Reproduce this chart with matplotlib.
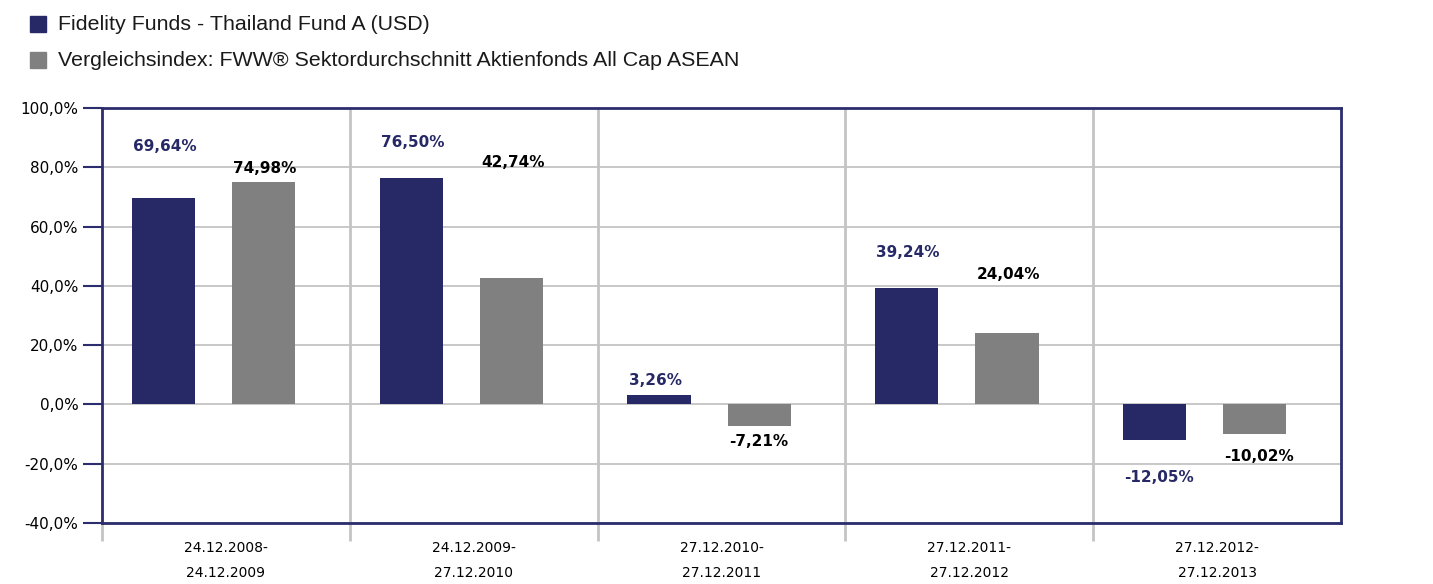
import numpy as np
import matplotlib
matplotlib.use("Agg")
import matplotlib.pyplot as plt
from matplotlib.patches import Rectangle

plt.rcParams["font.family"] = ["DejaVu Sans"]

# data
periods = ["24.12.2008-\n24.12.2009", "24.12.2009-\n27.12.2010", "27.12.2010-\n27.12.2011",
           "27.12.2011-\n27.12.2012", "27.12.2012-\n27.12.2013"]
fund = [69.64, 76.50, 3.26, 39.24, -12.05]
index = [74.98, 42.74, -7.21, 24.04, -10.02]
fund_name = "Fidelity Funds - Thailand Fund A (USD)"
index_name = "Vergleichsindex: FWW\u00ae Sektordurchschnitt Aktienfonds All Cap ASEAN"
# where the value labels sit (in data units)
fund_label_y = [87.0, 88.4, 8.1, 51.3, -24.6]
index_label_y = [79.6, 81.6, -12.5, 43.9, -17.5]

navy = "#272966"
gray = "#808080"
frame = "#2b2d6e"
light = "#c4c4c4"

fig = plt.figure(figsize=(14.33, 5.84), dpi=100)
ax = fig.add_axes([102/1433, 1-523/584, (1341-102)/1433, (523-108)/584])

x = np.arange(len(fund))
ax.bar(x + 0.12, fund, width=0.255, align="edge", color=navy, zorder=3)
ax.bar(x + 0.525, index, width=0.255, align="edge", color=gray, zorder=3)

def fmt(v):
    return ("%.2f%%" % v).replace(".", ",")

for i in range(len(fund)):
    ax.text(i + 0.125, fund_label_y[i], fmt(fund[i]), color=navy, fontsize=11,
            fontweight="bold", ha="left", va="center", zorder=4)
    ax.text(i + 0.53, index_label_y[i], fmt(index[i]), color="black", fontsize=11,
            fontweight="bold", ha="left", va="center", zorder=4)

ax.set_xlim(0, 5)
ax.set_ylim(-40, 100)
yt = np.arange(-40, 101, 20)
ax.set_yticks(yt)
ax.set_yticklabels([("%.1f%%" % v).replace(".", ",") for v in yt], fontsize=11)
ax.tick_params(axis="y", length=14, width=1.5, color=frame, pad=3)
ax.yaxis.grid(True, color=light, linewidth=1.3, zorder=1)

# group separators
ax.set_xticks(np.arange(5))
ax.set_xticklabels([])
ax.tick_params(axis="x", which="major", length=13, width=2, color=light)
for b in range(1, 5):
    ax.axvline(b, color=light, linewidth=2, zorder=1)
ax.set_xticks(x + 0.5, minor=True)
ax.set_xticklabels(periods, minor=True, fontsize=10, linespacing=1.95)
ax.tick_params(axis="x", which="minor", length=0, pad=13)

for s in ax.spines.values():
    s.set_color(frame)
    s.set_linewidth(2)
    s.set_zorder(5)

# legend
fig.patches.append(Rectangle((30/1433, 1-32/584), 16/1433, 16/584, color=navy,
                             transform=fig.transFigure, figure=fig))
fig.patches.append(Rectangle((30/1433, 1-68/584), 16/1433, 16/584, color=gray,
                             transform=fig.transFigure, figure=fig))
fig.text(58/1433, 1-24/584, fund_name, fontsize=15.4, family="Liberation Sans",
         va="center", color="#1a1a1a")
fig.text(58/1433, 1-60/584, index_name, fontsize=15.4, family="Liberation Sans",
         va="center", color="#1a1a1a")

fig.savefig("out.png", dpi=100)
